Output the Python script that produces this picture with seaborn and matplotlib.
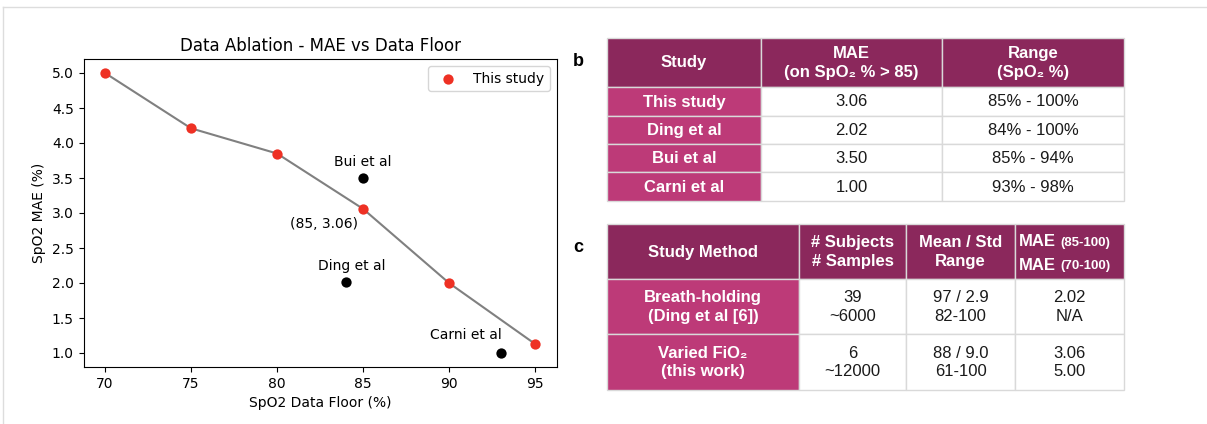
import matplotlib
matplotlib.use("Agg")
from matplotlib import pyplot as plt
from matplotlib.patches import Rectangle
import pandas as pd
import seaborn as sns

# ---- data: ablation curve (this study)
floor = [70, 75, 80, 85, 90, 95]
mae = [5.0, 4.21, 3.85, 3.06, 2.0, 1.13]

# ---- other studies on the plot
other_names = ["Bui et al", "Ding et al", "Carni et al"]
other_floor = [85, 84, 93]
other_mae = [3.5, 2.02, 1.0]

# ---- table b
b_header = ["Study", "MAE\n(on SpO\u2082 % > 85)", "Range\n(SpO\u2082 %)"]
b_study = ["This study", "Ding et al", "Bui et al", "Carni et al"]
b_mae = ["3.06", "2.02", "3.50", "1.00"]
b_range = ["85% - 100%", "84% - 100%", "85% - 94%", "93% - 98%"]

# ---- table c
c_header = ["Study Method", "# Subjects\n# Samples", "Mean / Std\nRange"]
c_method = ["Breath-holding\n(Ding et al [6])", "Varied FiO\u2082\n(this work)"]
c_subjects = ["39", "6"]
c_samples = ["~6000", "~12000"]
c_mean_std = ["97 / 2.9", "88 / 9.0"]
c_range = ["82-100", "61-100"]
c_mae85 = ["2.02", "3.06"]
c_mae70 = ["N/A", "5.00"]

DARK = "#8b285c"
PINK = "#bd3a78"
GRID = "#d9d9d9"
INK = "#1a1a1a"
TFONT = ["Liberation Sans", "DejaVu Sans"]

W, H = 1207, 424
fig = plt.figure(figsize=(W / 100, H / 100), dpi=100)

# overlay in pixel coords for tables / frame
ov = fig.add_axes([0, 0, 1, 1])
ov.set_xlim(0, W)
ov.set_ylim(H, 0)
ov.axis("off")
ov.plot([3, W], [7, 7], color="#dddddd", lw=1)
ov.plot([3, 3], [7, H], color="#dddddd", lw=1)


def cell(x0, x1, y0, y1, face, text, color, bold=False, size=12):
    ov.add_patch(Rectangle((x0, y0), x1 - x0, y1 - y0, facecolor=face,
                           edgecolor=GRID, lw=1))
    if text:
        ov.text((x0 + x1) / 2, (y0 + y1) / 2 + 0.5, text, ha="center", va="center",
                color=color, fontsize=size, family=TFONT,
                fontweight="bold" if bold else "normal", linespacing=1.32)


# table b
bx = [607, 761, 942, 1124]
by = [38, 87, 116, 144, 172, 201]
for j, h in enumerate(b_header):
    cell(bx[j], bx[j + 1], by[0], by[1], DARK, h, "white", bold=True)
for i in range(len(b_study)):
    cell(bx[0], bx[1], by[i + 1], by[i + 2], PINK, b_study[i], "white", bold=True)
    cell(bx[1], bx[2], by[i + 1], by[i + 2], "white", b_mae[i], INK)
    cell(bx[2], bx[3], by[i + 1], by[i + 2], "white", b_range[i], INK)
ov.text(578, 62, "b", fontsize=13, fontweight="bold", family=TFONT, va="center", ha="center")

# table c
cx = [607, 799, 906, 1015, 1124]
cy = [224, 279, 334, 390]
for j, h in enumerate(c_header):
    cell(cx[j], cx[j + 1], cy[0], cy[1], DARK, h, "white", bold=True)
cell(cx[3], cx[4], cy[0], cy[1], DARK, "", "white")
for yy, rng in [(242, "(85-100)"), (265, "(70-100)")]:
    ov.text(1056, yy, "MAE", ha="right", va="center", color="white",
            fontsize=12, fontweight="bold", family=TFONT)
    ov.text(1060, yy + 1, rng, ha="left", va="center", color="white",
            fontsize=9.5, fontweight="bold", family=TFONT)
for i in range(len(c_method)):
    y0, y1 = cy[i + 1], cy[i + 2]
    cell(cx[0], cx[1], y0, y1, PINK, c_method[i], "white", bold=True)
    cell(cx[1], cx[2], y0, y1, "white", c_subjects[i] + "\n" + c_samples[i], INK)
    cell(cx[2], cx[3], y0, y1, "white", c_mean_std[i] + "\n" + c_range[i], INK)
    cell(cx[3], cx[4], y0, y1, "white", c_mae85[i] + "\n" + c_mae70[i], INK)
ov.text(578, 247, "c", fontsize=13, fontweight="bold", family=TFONT, va="center", ha="center")

# ---- main plot
ax = fig.add_axes([83.5 / W, 1 - 367 / H, 473 / W, 308 / H])
df = pd.DataFrame({"floor": floor, "mae": mae})
others = pd.DataFrame({"name": other_names, "floor": other_floor, "mae": other_mae})

sns.lineplot(data=df, x="floor", y="mae", color="#808080", lw=1.5, ax=ax, zorder=1)
sns.scatterplot(data=df, x="floor", y="mae", color="#ee3124", s=55, linewidth=0,
                label="This study", ax=ax, zorder=2)
sns.scatterplot(data=others, x="floor", y="mae", color="black", s=55, linewidth=0,
                legend=False, ax=ax, zorder=2)

offsets = {"Bui et al": ((0, 12), "center"), "Ding et al": ((6, 12), "center"),
           "Carni et al": ((1, 14), "right")}
for n, xf, ym in zip(other_names, other_floor, other_mae):
    off, ha = offsets[n]
    ax.annotate(n, (xf, ym), textcoords="offset pixels", xytext=off, ha=ha, fontsize=10)
ax.annotate("(%d, %.2f)" % (floor[3], mae[3]), (floor[3], mae[3]), textcoords="offset pixels",
            xytext=(-5, -19), ha="right", fontsize=10)

ax.set_title("Data Ablation - MAE vs Data Floor", fontsize=12)
ax.set_xlabel("SpO2 Data Floor (%)")
ax.set_ylabel("SpO2 MAE (%)")
ax.legend(loc="upper right")

fig.savefig("out.png", dpi=100)
